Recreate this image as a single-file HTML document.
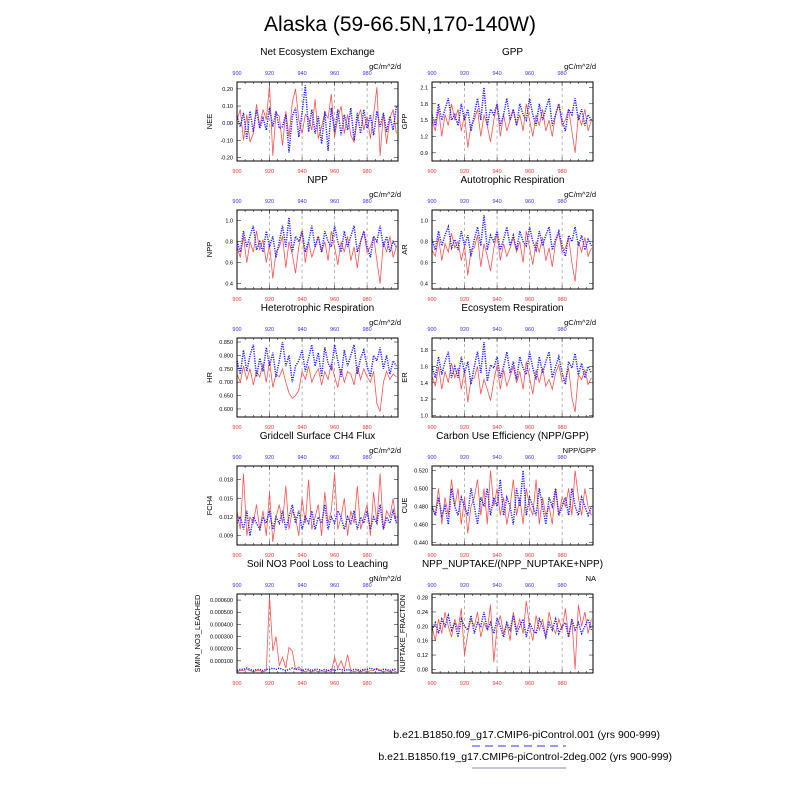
<!DOCTYPE html>
<html><head><meta charset="utf-8"><style>
body{margin:0;background:#fff}
svg text{font-family:"Liberation Sans",sans-serif}
</style></head><body>
<svg id="c" width="800" height="800" xmlns="http://www.w3.org/2000/svg">
<text x="400" y="31" font-size="21" text-anchor="middle">Alaska (59-66.5N,170-140W)</text>
<g id="panels"></g>
<text x="660" y="738" font-size="10.5" text-anchor="end">b.e21.B1850.f09_g17.CMIP6-piControl.001 (yrs 900-999)</text>
<line x1="472" y1="746" x2="566" y2="746" stroke="#33f" stroke-width="1" stroke-dasharray="8,5"/>
<text x="672" y="760" font-size="10.5" text-anchor="end">b.e21.B1850.f19_g17.CMIP6-piControl-2deg.002 (yrs 900-999)</text>
<line x1="472" y1="768" x2="566" y2="768" stroke="#668" stroke-width="0.8"/>
</svg>
<script>
const years = Array.from({length:50},(_, i)=>900+i*2);
const xTicks = [900,920,940,960,980];
const neeRed=[0.02,0.08,-0.10,0.05,-0.11,-0.06,0.11,-0.02,0.08,0.02,0.22,-0.19,0.06,0.04,-0.13,0.07,-0.08,0.12,0.20,0.02,-0.06,0.05,0.03,-0.04,0.14,-0.09,-0.02,0.06,0.03,0.17,-0.08,0.03,0.10,-0.06,0.05,-0.07,-0.11,0.02,0.08,-0.04,0.04,-0.09,0.05,0.21,-0.19,0.06,-0.12,0.03,0.08,-0.06];
const neeBlue=[0.04,-0.02,0.06,-0.09,0.07,-0.05,0.08,-0.03,0.03,-0.04,0.09,-0.02,0.07,-0.03,-0.02,0.05,-0.17,0.04,0.09,-0.08,0.06,0.22,-0.05,0.08,-0.06,0.04,-0.12,0.07,-0.16,0.09,-0.05,0.08,-0.07,0.05,-0.04,0.09,-0.10,0.06,-0.06,0.08,-0.03,0.05,-0.07,0.07,-0.02,0.06,-0.05,0.04,-0.04,0.10];
const gppRed=[1.5,1.3,1.7,1.2,1.6,1.4,1.8,1.5,1.7,1.3,1.6,1.0,1.4,1.5,1.7,1.2,1.6,1.4,1.1,1.5,1.8,1.2,1.6,1.3,1.5,1.7,1.4,1.6,1.3,1.8,1.5,1.2,1.6,1.4,1.7,1.3,1.5,1.2,1.6,1.8,1.4,1.5,1.7,1.3,0.9,1.6,1.4,1.7,1.3,1.5];
const gppBlue=[1.6,1.4,1.8,1.5,1.7,1.9,1.5,1.6,1.4,1.8,1.5,1.7,1.3,1.6,1.9,1.5,2.1,1.4,1.7,1.6,1.8,1.4,1.6,1.9,1.5,1.7,1.4,1.8,1.6,1.5,1.9,1.6,1.4,1.8,1.5,1.7,1.9,1.4,1.6,1.8,1.5,1.3,1.7,1.6,1.9,1.5,1.7,1.4,1.6,1.5];
const nppRed=[0.75,0.65,0.85,0.6,0.8,0.7,0.9,0.72,0.82,0.6,0.78,0.45,0.7,0.75,0.85,0.55,0.8,0.68,0.5,0.75,0.9,0.6,0.8,0.65,0.75,0.85,0.7,0.8,0.62,0.9,0.75,0.58,0.8,0.7,0.85,0.62,0.75,0.55,0.8,0.9,0.7,0.75,0.85,0.62,0.4,0.8,0.7,0.85,0.65,0.75];
const nppBlue=[0.8,0.7,0.9,0.75,0.85,0.95,0.72,0.8,0.7,0.9,0.75,0.85,0.65,0.8,0.95,0.75,1.03,0.7,0.85,0.8,0.9,0.7,0.8,0.95,0.75,0.85,0.7,0.9,0.8,0.75,0.95,0.8,0.7,0.9,0.75,0.85,0.95,0.7,0.8,0.9,0.75,0.65,0.85,0.8,0.95,0.75,0.85,0.7,0.8,0.75];
const arRed=[0.72,0.66,0.84,0.62,0.78,0.7,0.88,0.74,0.8,0.62,0.76,0.48,0.72,0.74,0.86,0.56,0.78,0.66,0.52,0.74,0.88,0.62,0.78,0.66,0.74,0.84,0.7,0.8,0.6,0.9,0.74,0.58,0.8,0.7,0.84,0.62,0.74,0.56,0.8,0.88,0.7,0.74,0.84,0.6,0.42,0.8,0.7,0.84,0.66,0.74];
const arBlue=[0.82,0.72,0.9,0.76,0.86,0.94,0.74,0.82,0.72,0.9,0.76,0.86,0.66,0.82,0.94,0.76,1.05,0.72,0.86,0.8,0.9,0.72,0.82,0.94,0.76,0.86,0.72,0.9,0.8,0.76,0.94,0.8,0.72,0.9,0.76,0.86,0.94,0.72,0.82,0.9,0.76,0.66,0.86,0.8,0.94,0.76,0.86,0.72,0.82,0.76];
const hrRed=[0.73,0.70,0.76,0.71,0.75,0.69,0.74,0.72,0.77,0.70,0.78,0.68,0.73,0.72,0.75,0.70,0.66,0.64,0.65,0.67,0.74,0.71,0.76,0.70,0.73,0.75,0.69,0.74,0.71,0.77,0.72,0.68,0.75,0.70,0.74,0.73,0.69,0.76,0.71,0.75,0.72,0.70,0.74,0.62,0.59,0.70,0.74,0.71,0.73,0.72];
const hrBlue=[0.78,0.73,0.82,0.74,0.80,0.84,0.72,0.79,0.74,0.83,0.76,0.81,0.72,0.78,0.85,0.76,0.80,0.70,0.76,0.78,0.82,0.74,0.79,0.84,0.76,0.81,0.72,0.83,0.77,0.75,0.84,0.78,0.72,0.82,0.76,0.80,0.84,0.73,0.79,0.82,0.76,0.72,0.80,0.78,0.83,0.75,0.80,0.73,0.78,0.76];
const erRed=[1.48,1.36,1.6,1.32,1.54,1.4,1.64,1.46,1.58,1.32,1.56,1.16,1.44,1.46,1.6,1.26,1.44,1.32,1.18,1.42,1.62,1.32,1.56,1.36,1.48,1.6,1.4,1.54,1.32,1.66,1.46,1.26,1.56,1.4,1.58,1.36,1.44,1.32,1.52,1.62,1.42,1.44,1.58,1.22,1.04,1.5,1.44,1.56,1.38,1.46];
const erBlue=[1.6,1.46,1.72,1.5,1.66,1.78,1.46,1.6,1.46,1.72,1.52,1.66,1.38,1.6,1.78,1.52,1.9,1.42,1.62,1.58,1.72,1.46,1.6,1.78,1.52,1.66,1.44,1.72,1.58,1.5,1.78,1.58,1.44,1.72,1.52,1.66,1.78,1.46,1.6,1.72,1.52,1.38,1.66,1.58,1.76,1.5,1.64,1.46,1.6,1.52];
const ch4Red=[0.013,0.010,0.019,0.009,0.012,0.011,0.014,0.010,0.013,0.009,0.016,0.008,0.012,0.014,0.011,0.017,0.010,0.013,0.012,0.009,0.015,0.011,0.018,0.010,0.012,0.014,0.009,0.016,0.011,0.013,0.019,0.010,0.012,0.015,0.009,0.013,0.011,0.017,0.010,0.012,0.014,0.009,0.016,0.011,0.019,0.010,0.013,0.012,0.015,0.011];
const ch4Blue=[0.011,0.012,0.010,0.013,0.009,0.012,0.011,0.010,0.012,0.011,0.013,0.010,0.012,0.011,0.013,0.010,0.012,0.014,0.011,0.013,0.010,0.012,0.011,0.013,0.010,0.012,0.011,0.014,0.010,0.012,0.011,0.013,0.012,0.010,0.012,0.011,0.013,0.010,0.012,0.011,0.013,0.010,0.012,0.011,0.014,0.010,0.012,0.011,0.013,0.011];
const cueRed=[0.48,0.47,0.50,0.46,0.49,0.47,0.51,0.48,0.50,0.46,0.49,0.45,0.48,0.49,0.51,0.47,0.50,0.46,0.52,0.48,0.50,0.47,0.49,0.46,0.48,0.51,0.47,0.49,0.46,0.50,0.48,0.47,0.51,0.46,0.49,0.47,0.48,0.46,0.50,0.47,0.49,0.48,0.50,0.47,0.52,0.49,0.47,0.50,0.48,0.47];
const cueBlue=[0.48,0.47,0.49,0.47,0.48,0.46,0.50,0.48,0.47,0.49,0.48,0.47,0.50,0.48,0.46,0.49,0.48,0.50,0.47,0.49,0.48,0.51,0.47,0.49,0.48,0.46,0.50,0.48,0.52,0.47,0.49,0.48,0.47,0.50,0.48,0.46,0.49,0.48,0.50,0.47,0.48,0.49,0.47,0.50,0.48,0.47,0.49,0.48,0.47,0.48];
const no3Red=[0.00001,0.00002,0.00002,0.00003,0.00002,0.00001,0.00002,0.00002,0.00001,0.00002,0.00063,0.00018,0.00030,0.00006,0.00013,0.00004,0.00021,0.00018,0.00003,0.00005,0.00002,0.00001,0.00002,0.00001,0.00002,0.00001,0.00002,0.00001,0.00002,0.00001,0.00013,0.00004,0.00010,0.00003,0.00015,0.00002,0.00001,0.00002,0.00001,0.00002,0.00001,0.00002,0.00002,0.00004,0.00002,0.00001,0.00002,0.00001,0.00002,0.00001];
const no3Blue=[0.00002,0.00003,0.00003,0.00004,0.00003,0.00002,0.00003,0.00003,0.00002,0.00003,0.00003,0.00004,0.00003,0.00004,0.00003,0.00002,0.00003,0.00004,0.00003,0.00003,0.00002,0.00003,0.00003,0.00002,0.00003,0.00003,0.00002,0.00003,0.00002,0.00003,0.00002,0.00003,0.00003,0.00002,0.00003,0.00002,0.00003,0.00003,0.00002,0.00003,0.00003,0.00004,0.00003,0.00003,0.00002,0.00003,0.00003,0.00002,0.00003,0.00003];
const nupRed=[0.20,0.16,0.22,0.18,0.24,0.20,0.17,0.22,0.19,0.25,0.12,0.18,0.22,0.20,0.24,0.17,0.21,0.19,0.26,0.10,0.20,0.23,0.18,0.21,0.16,0.24,0.19,0.22,0.18,0.27,0.20,0.16,0.23,0.19,0.22,0.17,0.24,0.20,0.18,0.22,0.19,0.25,0.17,0.22,0.08,0.26,0.20,0.24,0.18,0.22];
const nupBlue=[0.19,0.21,0.18,0.22,0.20,0.23,0.19,0.21,0.17,0.22,0.20,0.19,0.23,0.18,0.21,0.20,0.24,0.19,0.21,0.18,0.22,0.20,0.17,0.21,0.19,0.23,0.18,0.20,0.22,0.17,0.21,0.19,0.18,0.22,0.20,0.17,0.21,0.19,0.22,0.18,0.20,0.21,0.17,0.22,0.19,0.21,0.18,0.20,0.22,0.19];

const panels=[
 {n:"nee",t:"Net Ecosystem Exchange",y:"NEE",u:"gC/m^2/d",c:0,r:0,lo:-0.22,hi:0.24,ticks:[-0.2,-0.1,0,0.1,0.2],f:2,red:neeRed,blue:neeBlue},
 {n:"gpp",t:"GPP",y:"GPP",u:"gC/m^2/d",c:1,r:0,lo:0.75,hi:2.2,ticks:[0.9,1.2,1.5,1.8,2.1],f:1,red:gppRed,blue:gppBlue},
 {n:"npp",t:"NPP",y:"NPP",u:"gC/m^2/d",c:0,r:1,lo:0.35,hi:1.1,ticks:[0.4,0.6,0.8,1.0],f:1,red:nppRed,blue:nppBlue},
 {n:"ar",t:"Autotrophic Respiration",y:"AR",u:"gC/m^2/d",c:1,r:1,lo:0.35,hi:1.1,ticks:[0.4,0.6,0.8,1.0],f:1,red:arRed,blue:arBlue},
 {n:"hr",t:"Heterotrophic Respiration",y:"HR",u:"gC/m^2/d",c:0,r:2,lo:0.57,hi:0.865,ticks:[0.6,0.65,0.7,0.75,0.8,0.85],f:3,red:hrRed,blue:hrBlue},
 {n:"er",t:"Ecosystem Respiration",y:"ER",u:"gC/m^2/d",c:1,r:2,lo:0.98,hi:1.95,ticks:[1.0,1.2,1.4,1.6,1.8],f:1,red:erRed,blue:erBlue},
 {n:"ch4",t:"Gridcell Surface CH4 Flux",y:"FCH4",u:"gC/m^2/d",c:0,r:3,lo:0.0075,hi:0.0202,ticks:[0.009,0.012,0.015,0.018],f:3,red:ch4Red,blue:ch4Blue},
 {n:"cue",t:"Carbon Use Efficiency (NPP/GPP)",y:"CUE",u:"NPP/GPP",c:1,r:3,lo:0.437,hi:0.525,ticks:[0.44,0.46,0.48,0.5,0.52],f:3,red:cueRed,blue:cueBlue},
 {n:"no3",t:"Soil NO3 Pool Loss to Leaching",y:"SMIN_NO3_LEACHED",u:"gN/m^2/d",c:0,r:4,lo:0,hi:0.00065,ticks:[0.0001,0.0002,0.0003,0.0004,0.0005,0.0006],f:6,red:no3Red,blue:no3Blue},
 {n:"nuptake",t:"NPP_NUPTAKE/(NPP_NUPTAKE+NPP)",y:"NUPTAKE_FRACTION",u:"NA",c:1,r:4,lo:0.07,hi:0.29,ticks:[0.08,0.12,0.16,0.2,0.24,0.28],f:2,red:nupRed,blue:nupBlue}
];
const NS="http://www.w3.org/2000/svg";
const root=document.getElementById('panels');
function mk(tag,attrs,parent,txt){const e=document.createElementNS(NS,tag);for(const k in attrs)e.setAttribute(k,attrs[k]);if(txt!==undefined)e.textContent=txt;parent.appendChild(e);return e;}
panels.forEach(p=>{
 const x0=p.c?432:237, x1=p.c?593:398, y0=82+p.r*128, y1=y0+79;
 const sx=v=>x0+(v-900)/99*(x1-x0);
 const sy=v=>y1-(v-p.lo)/(p.hi-p.lo)*(y1-y0);
 const g=mk('g',{},root);
 
 
 const t=mk('text',{x:(x0+x1)/2,y:y0-27,'font-size':10,'text-anchor':'middle'},g,p.t);
 
 
 const u=mk('text',{x:x1+3,y:y0-13,'font-size':7.5,'text-anchor':'end'},g,p.u);
 
 
 const off=p.n==='no3'?37:(p.n==='nuptake'?27:25);
 const yl=mk('text',{x:0,y:0,'font-size':7.5,'text-anchor':'middle',transform:`translate(${x0-off},${(y0+y1)/2}) rotate(-90)`},g,p.y);
 
 
 xTicks.forEach(v=>{
  if(v>900){const l=mk('line',{x1:sx(v),x2:sx(v),y1:y0,y2:y1,stroke:'#888','stroke-width':0.6,'stroke-dasharray':'3,3'},g);
   
   }
  const a=mk('text',{x:sx(v),y:y0-7,'font-size':5.5,fill:'#33f','text-anchor':'middle'},g,v);
  
  
  const b=mk('text',{x:sx(v),y:y1+12,'font-size':5.5,fill:'#f33','text-anchor':'middle'},g,v);
  
  
 });
 for(let v=900;v<1000;v+=5){mk('line',{x1:sx(v),x2:sx(v),y1:y1,y2:y1-(v%20?2:4),stroke:'#000','stroke-width':0.5},g);mk('line',{x1:sx(v),x2:sx(v),y1:y0,y2:y0+(v%20?2:4),stroke:'#000','stroke-width':0.5},g);}
 p.ticks.forEach(v=>{
  mk('line',{x1:x0,x2:x0+4,y1:sy(v),y2:sy(v),stroke:'#000','stroke-width':0.5},g);
  mk('line',{x1:x1,x2:x1-4,y1:sy(v),y2:sy(v),stroke:'#000','stroke-width':0.5},g);
  const l=mk('text',{x:x0-4,y:sy(v)+2,'font-size':5.5,'text-anchor':'end'},g,v.toFixed(p.f));
  
  
 });
 const pts=arr=>arr.map((v,i)=>sx(years[i]).toFixed(1)+','+sy(v).toFixed(1)).join(' ');
 const r=mk('polyline',{points:pts(p.red),fill:'none',stroke:'#f33','stroke-width':0.8,'stroke-opacity':0.85},g);
 
 
 const b=mk('polyline',{points:pts(p.blue),fill:'none',stroke:'#22f','stroke-width':1.5,'stroke-dasharray':'1.2,1.2'},g);
 
 
 const box=mk('rect',{x:x0,y:y0,width:x1-x0,height:y1-y0,fill:'none',stroke:'#000','stroke-width':1},g);
 
 
});
</script>
</body></html>
